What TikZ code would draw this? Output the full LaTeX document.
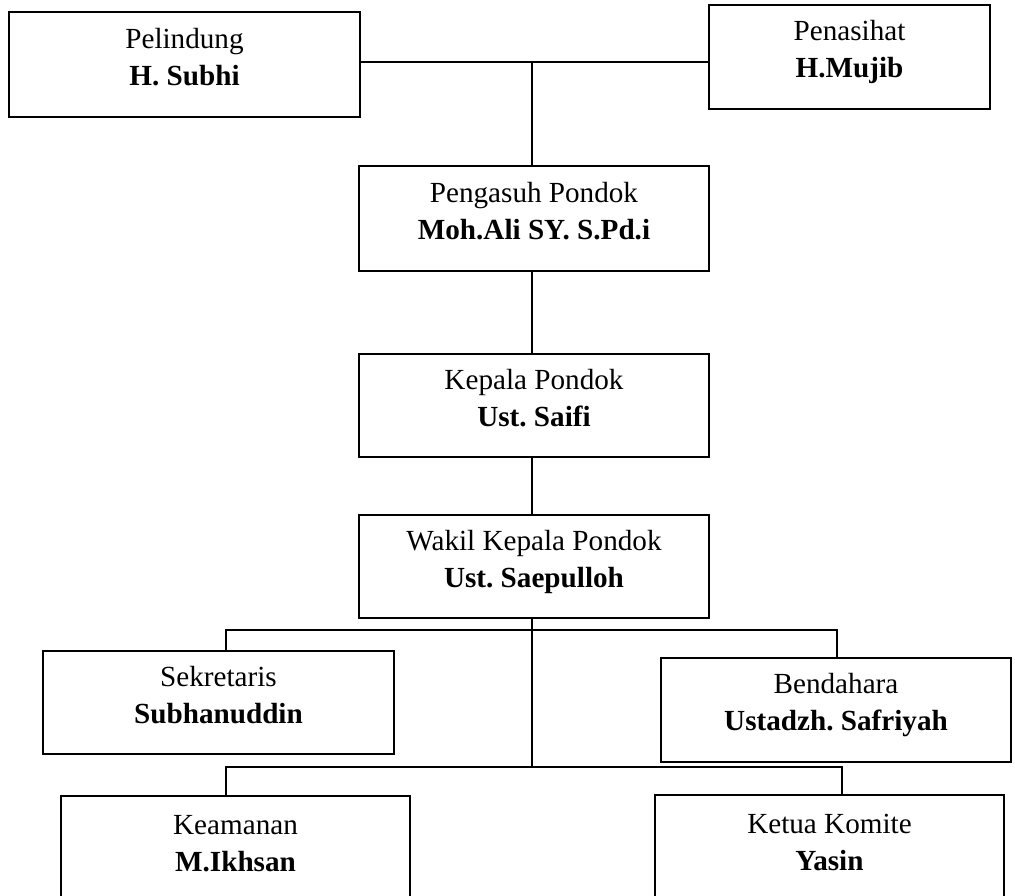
\documentclass[tikz,border=0pt]{standalone}
\usepackage{fontspec}
\setmainfont{Liberation Serif}
\usepackage{tikz}
\frenchspacing
\newcommand{\nm}[1]{\textbf{#1}\rule[-9pt]{0pt}{9pt}}

\begin{document}
\begin{tikzpicture}[x=0.02cm,y=-0.02cm,
    jab/.style={draw,line width=1.1pt,inner sep=0pt,align=center,
      font=\fontsize{16.6}{21}\selectfont},
    garis/.style={line width=0.9pt}]
    \clip (0,0) rectangle (1015,896);

    \node[jab,minimum width=7.02cm,minimum height=2.1cm] (pelindung) at (184.5,64.5) {Pelindung\\\nm{H. Subhi}};
    \node[jab,minimum width=5.62cm,minimum height=2.08cm] (penasihat) at (849.5,57) {Penasihat\\\nm{H.Mujib}};
    \node[jab,minimum width=7cm,minimum height=2.1cm] (pengasuh) at (534,218.5) {Pengasuh Pondok\\\nm{Moh.Ali SY. S.Pd.i}};
    \node[jab,minimum width=7cm,minimum height=2.06cm] (kepala) at (534,405.5) {Kepala Pondok\\\nm{Ust. Saifi}};
    \node[jab,minimum width=7cm,minimum height=2.06cm] (wakil) at (534,566.5) {Wakil Kepala Pondok\\\nm{Ust. Saepulloh}};
    \node[jab,minimum width=7.02cm,minimum height=2.06cm] (sekretaris) at (218.5,702.5) {Sekretaris\\\nm{Subhanuddin}};
    \node[jab,minimum width=7cm,minimum height=2.08cm] (bendahara) at (836,710) {Bendahara\\\nm{Ustadzh. Safriyah}};
    \node[jab,minimum width=6.98cm,minimum height=2.2cm] (keamanan) at (235.5,851) {Keamanan\\\nm{M.Ikhsan}};
    \node[jab,minimum width=6.98cm,minimum height=2.2cm] (ketua) at (829.5,850) {Ketua Komite\\\nm{Yasin}};

    % titik cabang
    \coordinate (atas) at (532,62);
    \coordinate (tengah) at (532,630);
    \coordinate (bawah) at (532,767);
    \coordinate (sek) at (226,630);
    \coordinate (ben) at (837,630);
    \coordinate (kea) at (226,767);
    \coordinate (ket) at (842,767);

    \draw[garis] (pelindung.east |- atas) -- (penasihat.west |- atas);
    \draw[garis] (atas) -- (atas |- pengasuh.north);
    \draw[garis] (atas |- pengasuh.south) -- (atas |- kepala.north);
    \draw[garis] (atas |- kepala.south) -- (atas |- wakil.north);
    \draw[garis] (atas |- wakil.south) -- (tengah) -- (bawah);

    \draw[garis] (sekretaris.north -| sek) -- (sek) -- (ben) -- (bendahara.north -| ben);
    \draw[garis] (keamanan.north -| kea) -- (kea) -- (ket) -- (ketua.north -| ket);
  \end{tikzpicture}
\end{document}
